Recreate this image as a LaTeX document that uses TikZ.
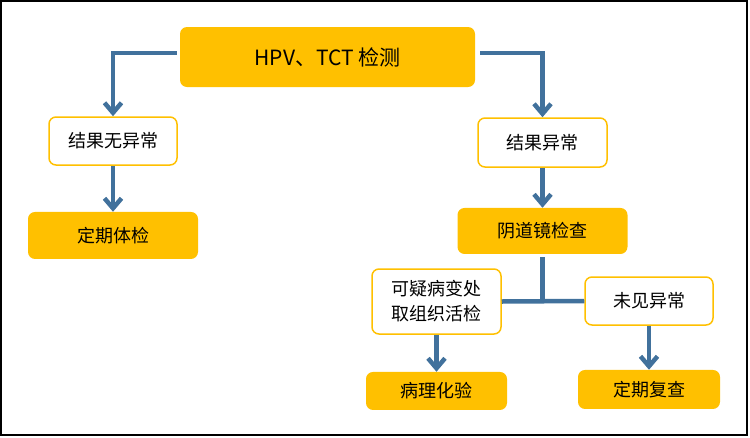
\documentclass[tikz,border=0pt]{standalone}
\usepackage{fontspec}
\setmainfont{Noto Sans CJK SC}
\usetikzlibrary{arrows.meta,positioning}
\definecolor{boxgold}{HTML}{FFC000}
\definecolor{flowblue}{RGB}{65,113,156}

\begin{document}
\begin{tikzpicture}[x=1pt, y=-1pt,
      fillbox/.style={fill=boxgold, rounded corners=7pt, align=center, inner sep=0pt, font=\fontsize{18}{25}\selectfont},
      linebox/.style={draw=boxgold, line width=1.5pt, fill=white, rounded corners=7pt, align=center, inner sep=0pt, font=\fontsize{18}{25}\selectfont},
      arr/.style={-{Straight Barb[length=10pt,width=17pt]}, flowblue, line width=4.5pt},
      seg/.style={flowblue, line width=4.5pt}]
    \useasboundingbox (0,0) rectangle (750,437);
    \draw[line width=1.5pt] (1,1) rectangle (747,435);
    % top test
    \node[fillbox, minimum width=295pt, minimum height=60pt, font=\fontsize{21}{25}\selectfont] (hpv) at (327.5,57) {HPV、TCT 检测};
    % left branch
    \node[linebox, minimum width=128pt, minimum height=48pt] (ok) at (113,141) {结果无异常};
    \node[fillbox, minimum width=170pt, minimum height=47pt, below=46pt of ok] (phys) {定期体检};
    % right branch
    \node[linebox, minimum width=129pt, minimum height=49pt] (abn) at (542.5,142.5) {结果异常};
    \node[fillbox, minimum width=170pt, minimum height=46pt, below=40pt of abn] (colpo) {阴道镜检查};
    \node[linebox, minimum width=129pt, minimum height=65pt] (susp) at (436.5,301.5) {可疑病变处\\取组织活检};
    \node[linebox, minimum width=128pt, minimum height=48pt] (none) at (649,301) {未见异常};
    \node[fillbox, minimum width=141pt, minimum height=38pt, below=37pt of susp] (path) {病理化验};
    \node[fillbox, minimum width=142pt, minimum height=39pt, below=44pt of none] (recheck) {定期复查};
    % connectors
    \draw[arr] ([xshift=-3pt,yshift=4pt]hpv.west) -| (ok.north);
    \draw[arr] ([xshift=5pt,yshift=4pt]hpv.east) -| (abn.north);
    \draw[arr] (ok) -- (phys);
    \draw[arr] (abn) -- (colpo);
    \draw[seg] ([yshift=-3pt]colpo.south) -- (colpo.south |- susp.east);
    \draw[seg] (susp.east) -- (none.west);
    \draw[arr] (susp) -- (path);
    \draw[arr] (none) -- (recheck);
  \end{tikzpicture}
\end{document}
